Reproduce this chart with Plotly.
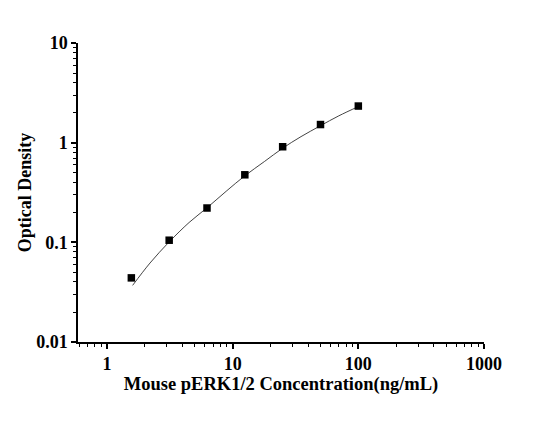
import plotly.graph_objects as go

# standard points
conc = [1.5625, 3.125, 6.25, 12.5, 25, 50, 100]
od = [0.044, 0.105, 0.221, 0.476, 0.91, 1.52, 2.33]

# fitted curve
fit_conc = [1.6, 2.2, 3.125, 4.5, 6.25, 9, 12.5, 18, 25, 35, 50, 70, 100]
fit_od = [0.037, 0.062, 0.101, 0.158, 0.222, 0.33, 0.465, 0.65, 0.88, 1.15, 1.48, 1.86, 2.3]

x_major = [1, 10, 100, 1000]
x_labels = ["1", "10", "100", "1000"]
y_major = [0.01, 0.1, 1, 10]
y_labels = ["0.01", "0.1", "1", "10"]

x_minor = [m * d for d in [0.1, 1, 10, 100] for m in range(2, 10)]
y_minor = [m * d for d in [0.01, 0.1, 1] for m in range(2, 10)]

font = "Liberation Serif"

fig = go.Figure()
fig.add_trace(go.Scatter(
    x=fit_conc, y=fit_od, mode="lines", line_shape="spline",
    line=dict(color="#444444", width=1), showlegend=False, hoverinfo="skip",
))
fig.add_trace(go.Scatter(
    x=conc, y=od, mode="markers",
    marker=dict(symbol="square", size=7.5, color="black"), showlegend=False,
))

axis_common = dict(
    showgrid=False, zeroline=False, showline=True, linecolor="black", linewidth=1.5,
    ticks="outside", ticklen=5, tickwidth=1.5, tickcolor="black",
    tickfont=dict(family=font, size=18, color="black", weight="bold"),
    mirror=False,
)

fig.update_xaxes(
    type="log", range=[-0.2306, 3], tickmode="array",
    tickvals=x_major, ticktext=x_labels,
    minor=dict(tickmode="array", tickvals=x_minor, ticks="outside", ticklen=3,
               tickwidth=1, tickcolor="black"),
    title=dict(text="Mouse pERK1/2 Concentration(ng/mL)", standoff=0,
               font=dict(family=font, size=18.5, color="black", weight="bold")),
    **axis_common,
)
fig.update_yaxes(
    type="log", range=[-2, 1], tickmode="array",
    tickvals=y_major, ticktext=y_labels,
    minor=dict(tickmode="array", tickvals=y_minor, ticks="outside", ticklen=3,
               tickwidth=1, tickcolor="black"),
    title=dict(text="Optical Density", standoff=0,
               font=dict(family=font, size=18, color="black", weight="bold")),
    **axis_common,
)

# page body adds 8px, so margins are shifted to compensate
fig.update_layout(
    width=549, height=426,
    margin=dict(l=70, r=73, t=35, b=92),
    plot_bgcolor="white", paper_bgcolor="white",
)

fig.write_html("out.html")
